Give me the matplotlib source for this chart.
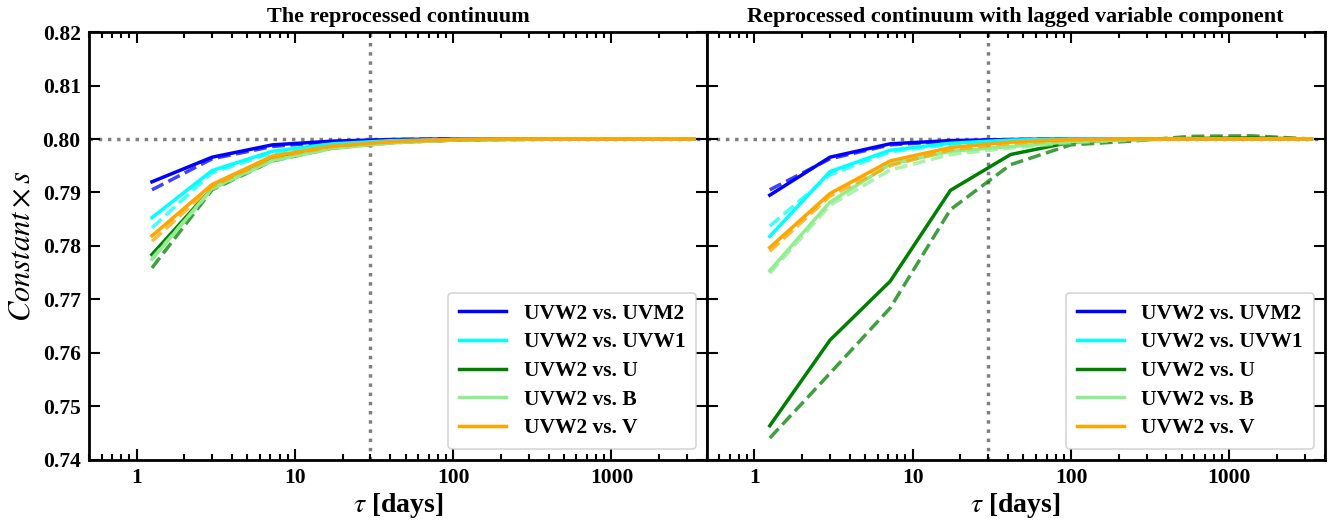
import matplotlib
matplotlib.use('Agg')
import matplotlib.pyplot as plt
from matplotlib.ticker import LogLocator, NullFormatter, FixedLocator

plt.rcParams['font.family'] = ['Liberation Serif', 'DejaVu Serif']
plt.rcParams['mathtext.fontset'] = 'stix'

# lag grid (days)
tau = [1.25, 3.0, 7.2, 17.3, 41.5, 99.5, 239, 573, 1376, 3302]

labels = ["UVW2 vs. UVM2", "UVW2 vs. UVW1", "UVW2 vs. U", "UVW2 vs. B", "UVW2 vs. V"]
colors = ["blue", "cyan", "green", "lightgreen", "orange"]

# left panel: reprocessed continuum (solid / dashed)
left_solid = [
    [0.7920, 0.7966, 0.7989, 0.7996, 0.7999, 0.8000, 0.8000, 0.8000, 0.8000, 0.8000],
    [0.7853, 0.7941, 0.7977, 0.7991, 0.7997, 0.7999, 0.8000, 0.8000, 0.8000, 0.8000],
    [0.7784, 0.7908, 0.7961, 0.7984, 0.7994, 0.7998, 0.8000, 0.8000, 0.8000, 0.8000],
    [0.7775, 0.7908, 0.7960, 0.7983, 0.7993, 0.7998, 0.7999, 0.8000, 0.8000, 0.8000],
    [0.7819, 0.7915, 0.7968, 0.7987, 0.7995, 0.7999, 0.8000, 0.8000, 0.8000, 0.8000],
]
left_dashed = [
    [0.7905, 0.7963, 0.7986, 0.7995, 0.7999, 0.8000, 0.8000, 0.8000, 0.8000, 0.8000],
    [0.7834, 0.7937, 0.7974, 0.7989, 0.7996, 0.7999, 0.8000, 0.8000, 0.8000, 0.8000],
    [0.7759, 0.7905, 0.7959, 0.7983, 0.7993, 0.7998, 0.7999, 0.8000, 0.8000, 0.8000],
    [0.7777, 0.7906, 0.7959, 0.7982, 0.7993, 0.7998, 0.7999, 0.8000, 0.8000, 0.8000],
    [0.7809, 0.7911, 0.7965, 0.7986, 0.7995, 0.7999, 0.8000, 0.8000, 0.8000, 0.8000],
]

# right panel: reprocessed continuum with lagged variable component
right_solid = [
    [0.7895, 0.7966, 0.7991, 0.7997, 0.7999, 0.8000, 0.8000, 0.8000, 0.8000, 0.8000],
    [0.7818, 0.7939, 0.7979, 0.7992, 0.7998, 0.8000, 0.8000, 0.8000, 0.8000, 0.8000],
    [0.7464, 0.7624, 0.7734, 0.7904, 0.7971, 0.7994, 0.7999, 0.8001, 0.8002, 0.8000],
    [0.7754, 0.7882, 0.7953, 0.7977, 0.7986, 0.7995, 0.7999, 0.8000, 0.8000, 0.8000],
    [0.7797, 0.7898, 0.7959, 0.7984, 0.7994, 0.7999, 0.8000, 0.8000, 0.8000, 0.8000],
]
right_dashed = [
    [0.7905, 0.7963, 0.7989, 0.7996, 0.7999, 0.8000, 0.8000, 0.8000, 0.8000, 0.8000],
    [0.7837, 0.7933, 0.7976, 0.7990, 0.7997, 0.7999, 0.8000, 0.8000, 0.8000, 0.8000],
    [0.7441, 0.7562, 0.7684, 0.7868, 0.7952, 0.7989, 0.7996, 0.8005, 0.8006, 0.8000],
    [0.7749, 0.7876, 0.7942, 0.7971, 0.7983, 0.7993, 0.7998, 0.8000, 0.8000, 0.8000],
    [0.7790, 0.7893, 0.7950, 0.7980, 0.7992, 0.7998, 0.8000, 0.8000, 0.8000, 0.8000],
]

titles = ["The reprocessed continuum", "Reprocessed continuum with lagged variable component"]

fig = plt.figure(figsize=(13.38, 5.23), dpi=100)
fig.subplots_adjust(left=0.0665, right=0.990, bottom=0.1205, top=0.9388, wspace=0)
ax1 = fig.add_subplot(1, 2, 1)
ax2 = fig.add_subplot(1, 2, 2, sharey=ax1)

panels = [(ax1, left_solid, left_dashed), (ax2, right_solid, right_dashed)]
for i, (ax, solid, dashed) in enumerate(panels):
    for ys, yd, c, lab in zip(solid, dashed, colors, labels):
        ax.plot(tau, ys, color=c, lw=2.5, label=lab)
        ax.plot(tau, yd, color=c, lw=2.5, ls='--', alpha=0.75)
    ax.axhline(0.80, color='gray', ls=':', lw=2.5, zorder=0)
    ax.axvline(30, color='gray', ls=':', lw=2.5, zorder=0)
    ax.set_xscale('log')
    ax.set_xlim(0.5, 4000)
    ax.set_ylim(0.74, 0.82)
    ax.xaxis.set_major_locator(FixedLocator([1, 10, 100, 1000]))
    ax.set_xticklabels(["1", "10", "100", "1000"])
    ax.xaxis.set_minor_locator(LogLocator(base=10, subs=range(2, 10), numticks=20))
    ax.xaxis.set_minor_formatter(NullFormatter())
    ax.tick_params(which='both', direction='in', top=True, right=True, width=1.5)
    ax.tick_params(which='major', length=8, labelsize=15.5, pad=6)
    ax.tick_params(which='minor', length=4)
    for lbl in ax.get_xticklabels() + ax.get_yticklabels():
        lbl.set_fontweight('bold')
    for sp in ax.spines.values():
        sp.set_linewidth(2)
    ax.set_title(titles[i], fontsize=16, fontweight='bold', pad=7)
    ax.set_xlabel(r"$\tau$ [days]", fontsize=20, fontweight='bold', labelpad=2)
    leg = ax.legend(loc='lower right', prop={'weight': 'bold', 'size': 15.5},
                    handlelength=2.2, handletextpad=0.8, labelspacing=0.4,
                    borderpad=0.5, fancybox=True)
    leg.get_frame().set_linewidth(1.2)

ax1.set_yticks([0.74, 0.75, 0.76, 0.77, 0.78, 0.79, 0.80, 0.81, 0.82])
ax1.set_yticklabels(["0.74", "0.75", "0.76", "0.77", "0.78", "0.79", "0.80", "0.81", "0.82"],
                    fontweight='bold')
ax1.set_ylabel(r"$Constant \times s$", fontsize=22)
plt.setp(ax2.get_yticklabels(), visible=False)

fig.savefig("out.png", dpi=100)
